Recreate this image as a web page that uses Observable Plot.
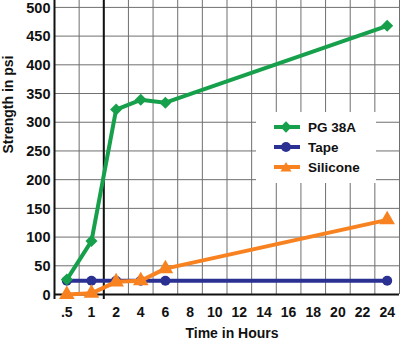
<!DOCTYPE html>
<html>
<head>
<meta charset="utf-8">
<script src="https://cdn.jsdelivr.net/npm/d3@7"></script>
<script src="https://cdn.jsdelivr.net/npm/@observablehq/plot@0.6"></script>
<style>
  body { margin: 0; background: #fff; }
  #chart { position: relative; width: 400px; height: 339px; font-family: "Liberation Sans", Arial, sans-serif; }
  #chart svg { display: block; }
  #legend { position: absolute; left: 256px; top: 112px; width: 120px; height: 71px; background: #fff; }
  .row { position: absolute; left: 0; height: 20px; display: flex; align-items: center; font-weight: bold; font-size: 13.5px; color: #111; }
  .row svg { margin-left: 16px; margin-right: 8px; }
</style>
</head>
<body>
<div id="chart"><div id="legend"></div></div>
<script>
// Categories on the x axis (evenly spaced)
const hours = [".5", "1", "2", "4", "6", "8", "10", "12", "14", "16", "18", "20", "22", "24"];
// Hours at which measurements were taken
const measuredHours = [".5", "1", "2", "4", "6", "24"];
// Series values (psi)
const pg38a = [26, 93, 322, 339, 334, 468];
const tape = [24, 24, 24, 24, 24, 24];
const silicone = [0, 2, 22, 24, 45, 130];
const yTicks = [0, 50, 100, 150, 200, 250, 300, 350, 400, 450, 500];
const seriesNames = ["PG 38A", "Tape", "Silicone"];
const seriesColors = ["#17a04b", "#2b3192", "#f7821f"];
const seriesSymbols = ["square", "circle", "triangle"];

const seriesValues = [pg38a, tape, silicone];
const data = seriesNames.flatMap((name, s) =>
  measuredHours.map((h, i) => ({series: name, hour: h, idx: hours.indexOf(h), value: seriesValues[s][i]}))
);
const bySeries = name => data.filter(d => d.series === name);
const font = {fontFamily: "Liberation Sans, Arial, sans-serif", fontWeight: "bold"};

const drawOrder = ["Tape", "Silicone", "PG 38A"];
const seriesMarks = drawOrder.flatMap(name => {
  const s = seriesNames.indexOf(name);
  const sym = seriesSymbols[s];
  return [
    Plot.line(bySeries(name), {x: "idx", y: "value", stroke: seriesColors[s], strokeWidth: 4}),
    Plot.dot(bySeries(name), {
      x: "idx", y: "value", fill: seriesColors[s], stroke: "none",
      symbol: sym,
      r: sym === "square" ? 4.8 : sym === "circle" ? 5 : 5.8,
      rotate: sym === "square" ? 45 : 0
    })
  ];
});

const plot = Plot.plot({
  width: 400,
  height: 339,
  marginLeft: 54,
  marginRight: 1,
  marginTop: 0,
  marginBottom: 45,
  style: {background: "#fff", overflow: "visible"},
  x: {type: "linear", domain: [-0.5, hours.length - 0.5]},
  y: {domain: [0, 512]},
  marks: [
    Plot.ruleY(yTicks, {stroke: "#6f6f6f", strokeWidth: 1}),
    Plot.ruleX(d3.range(hours.length + 1).map(i => i - 0.5), {stroke: "#6f6f6f", strokeWidth: 1}),
    Plot.ruleX([-0.5, 1.5], {stroke: "#111", strokeWidth: 2, insetBottom: -5}),
    Plot.ruleY([0], {stroke: "#111", strokeWidth: 2}),
    Plot.axisY(yTicks, {tickSize: 0, tickPadding: 4, fontSize: 14.5, ...font, label: null, fill: "#111", dy: 0.5}),
    Plot.axisX(d3.range(hours.length), {tickSize: 0, tickPadding: 13, fontSize: 14, ...font, label: null, fill: "#111", tickFormat: i => hours[i]}),
    Plot.text(["Strength in psi"], {frameAnchor: "left", dx: -46, dy: 6, rotate: -90, fontSize: 14, ...font, fill: "#111"}),
    Plot.text(["Time in Hours"], {frameAnchor: "bottom", dx: 5, dy: 43, fontSize: 14, ...font, fill: "#111"}),
    ...seriesMarks
  ]
});
document.getElementById("chart").prepend(plot);

// Legend
const legend = document.getElementById("legend");
seriesNames.forEach((name, s) => {
  const row = document.createElement("div");
  row.className = "row";
  row.style.top = (5 + s * 20) + "px";
  const sym = seriesSymbols[s];
  const c = seriesColors[s];
  let marker;
  if (sym === "square") marker = `<rect x="8" y="1" width="8" height="8" transform="rotate(45 12 5)" fill="${c}"/>`;
  else if (sym === "circle") marker = `<circle cx="12" cy="5" r="5" fill="${c}"/>`;
  else marker = `<path d="M12,0 L17.5,9.5 L6.5,9.5 Z" fill="${c}"/>`;
  row.innerHTML = `<svg width="28" height="12" viewBox="-1 -1 26 12"><line x1="0" x2="26" y1="5" y2="5" stroke="${c}" stroke-width="4"/>${marker}</svg><span>${name}</span>`;
  legend.appendChild(row);
});
</script>
</body>
</html>
